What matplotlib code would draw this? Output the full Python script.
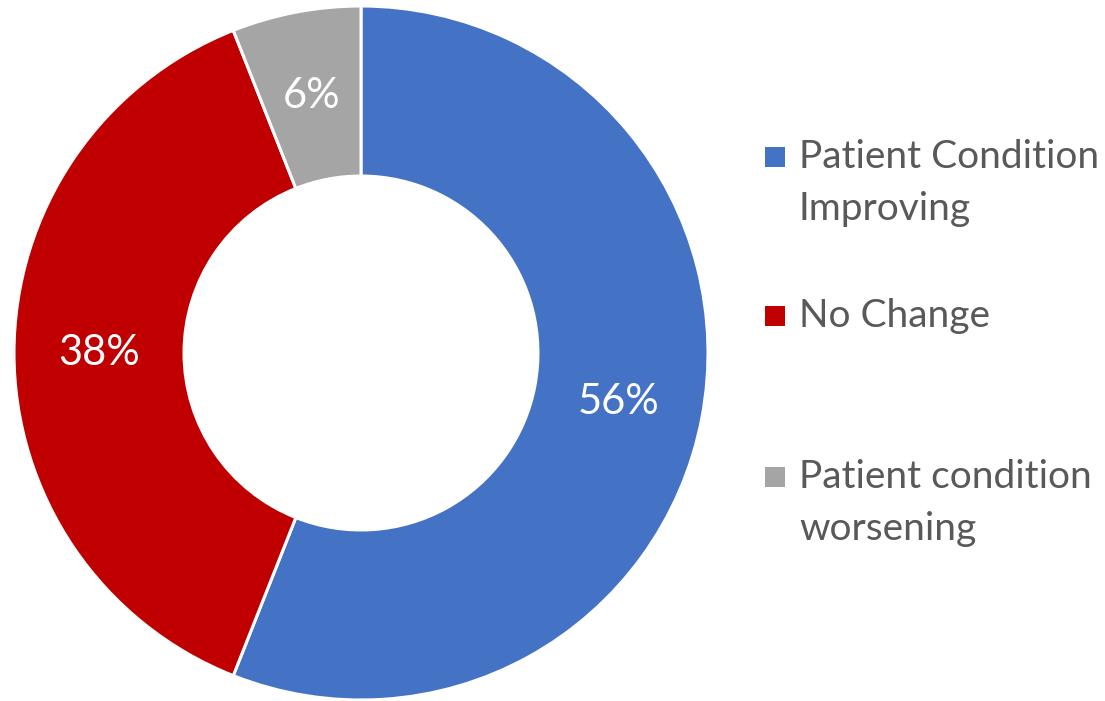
import matplotlib
matplotlib.use("Agg")
import matplotlib.pyplot as plt
from matplotlib.patches import Rectangle

plt.rcParams["font.family"] = ["Lato", "DejaVu Sans"]

# data
labels = ["Patient Condition\nImproving", "No Change", "Patient condition\nworsening"]
values = [56, 38, 6]
colors = ["#4472C4", "#C00000", "#A5A5A5"]

W, H = 1105, 701
fig = plt.figure(figsize=(W / 100, H / 100), dpi=100)

# donut centre (361, 353) px, outer radius ~347 px
cx, cy, r = 361, 353, 347
ax = fig.add_axes([(cx - r) / W, (H - cy - r) / H, 2 * r / W, 2 * r / H])

wedges, texts = ax.pie(
    values, colors=colors, startangle=90, counterclock=False, radius=1.0,
    wedgeprops=dict(width=0.49, edgecolor="white", linewidth=2.2),
    labels=[f"{v}%" for v in values], labeldistance=0.755,
    textprops=dict(color="white", fontsize=30, ha="center", va="center"),
)
# pie() resets the limits to +-1.25, so fix them afterwards
ax.set_xlim(-1, 1)
ax.set_ylim(-1, 1)
ax.set_aspect("equal")
ax.axis("off")

# legend drawn by hand so the square sits on the first text line
leg_y = [157, 316, 477]
for lab, col, y in zip(labels, colors, leg_y):
    fig.patches.append(Rectangle((765 / W, (H - y - 10) / H), 20 / W, 20 / H,
                                 transform=fig.transFigure, facecolor=col,
                                 edgecolor="none"))
    lines = lab.split("\n")
    for k, line in enumerate(lines):
        fig.text(799 / W, (H - y - 52 * k) / H, line, color="#595959",
                 fontsize=28, ha="left", va="center")

fig.savefig("out.png", dpi=100)
